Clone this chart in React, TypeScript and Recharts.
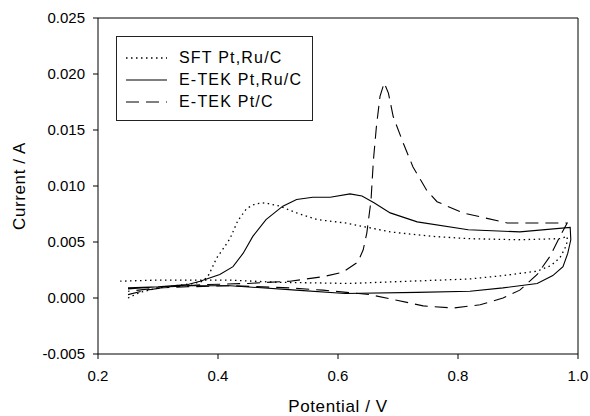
import React from 'react';
import { LineChart, Line, XAxis, YAxis, Legend, ReferenceLine } from 'recharts';

// potential (V) and current (A), in sweep order
const sftPotential = [
  0.25, 0.27, 0.3, 0.33, 0.36, 0.375, 0.385, 0.398, 0.41, 0.42, 0.433, 0.448, 0.462, 0.478,
  0.503, 0.531, 0.565, 0.612, 0.65, 0.687, 0.758, 0.817, 0.9, 0.97, 0.982,
  0.982, 0.978, 0.97, 0.955, 0.932, 0.875, 0.82, 0.72, 0.62, 0.5, 0.42, 0.35, 0.3, 0.237,
];
const sftCurrent = [
  0.0, 0.0005, 0.0009, 0.0011, 0.0013, 0.0015, 0.0021, 0.0036, 0.0045, 0.0053, 0.0069, 0.008, 0.0084, 0.0085,
  0.0082, 0.0076, 0.007, 0.0067, 0.0063, 0.0059, 0.0055, 0.0053, 0.0052, 0.0053, 0.0055,
  0.005, 0.0044, 0.0036, 0.0029, 0.0024, 0.002, 0.0017, 0.0015, 0.0013, 0.0014, 0.0016, 0.0016, 0.0016, 0.0015,
];

const etekRuPotential = [
  0.25, 0.3, 0.35, 0.37, 0.403, 0.425, 0.442, 0.458, 0.48, 0.508, 0.531, 0.558, 0.587, 0.62,
  0.64, 0.66, 0.687, 0.732, 0.817, 0.903, 0.987,
  0.988, 0.983, 0.975, 0.958, 0.932, 0.875, 0.82, 0.732, 0.612, 0.53, 0.42, 0.35, 0.3, 0.25,
];
const etekRuCurrent = [
  0.0009, 0.001, 0.0012, 0.0015, 0.0021, 0.0028, 0.004, 0.0055, 0.007, 0.0082, 0.0088, 0.009, 0.009, 0.0093,
  0.0091, 0.0085, 0.0076, 0.0068, 0.0061, 0.0059, 0.0063,
  0.0052, 0.004, 0.0028, 0.002, 0.0013, 0.0009, 0.0006, 0.0005, 0.0004, 0.0007, 0.0011, 0.0011, 0.001, 0.0008,
];

const etekPtPotential = [
  0.25, 0.28, 0.32, 0.38, 0.45, 0.52, 0.575, 0.608, 0.633, 0.642, 0.648, 0.655, 0.659, 0.664, 0.67, 0.677,
  0.684, 0.692, 0.709, 0.725, 0.748, 0.765, 0.808, 0.882, 0.982,
  0.97, 0.953, 0.932, 0.903, 0.875, 0.837, 0.792, 0.742, 0.698, 0.653, 0.575, 0.52, 0.42, 0.35, 0.3, 0.25,
];
const etekPtCurrent = [
  0.0003, 0.0007, 0.001, 0.0012, 0.0013, 0.0015, 0.0019, 0.0023, 0.0032, 0.0043, 0.0058, 0.0087, 0.0123, 0.0153, 0.018, 0.0192,
  0.0183, 0.0162, 0.0138, 0.0117, 0.0096, 0.0086, 0.0076, 0.0067, 0.0067,
  0.0055, 0.0037, 0.0021, 0.0007, 0.0, -0.0006, -0.0009, -0.0007, -0.0002, 0.0003, 0.0007, 0.0009, 0.0011, 0.001, 0.0009, 0.0006,
];

const xTicks = [0.2, 0.4, 0.6, 0.8, 1.0];
const yTicks = [-0.005, 0, 0.005, 0.01, 0.015, 0.02, 0.025];

const toPoints = (v: number[], i: number[]) => v.map((p, k) => ({ v: p, i: i[k] }));

const series = [
  { name: 'SFT Pt,Ru/C', data: toPoints(sftPotential, sftCurrent), dash: '1.5 3.5', width: 1.3 },
  { name: 'E-TEK Pt,Ru/C', data: toPoints(etekRuPotential, etekRuCurrent), dash: undefined, width: 1.1 },
  { name: 'E-TEK Pt/C', data: toPoints(etekPtPotential, etekPtCurrent), dash: '13 7', width: 1.1 },
];

const FONT = '"Liberation Sans", Arial, sans-serif';

function LegendBox() {
  return (
    <div
      style={{
        width: 197,
        height: 85,
        border: '1px solid #222',
        boxSizing: 'border-box',
        background: '#fff',
        paddingTop: 10,
        paddingLeft: 9,
        fontFamily: FONT,
        fontSize: 16,
        letterSpacing: 1.2,
        color: '#000',
      }}
    >
      {series.map((s) => (
        <div key={s.name} style={{ display: 'flex', alignItems: 'center', height: 22 }}>
          <svg width={41} height={10} style={{ marginRight: 12 }}>
            <line x1={0} y1={5} x2={41} y2={5} stroke="#000" strokeWidth={s.width} strokeDasharray={s.dash} />
          </svg>
          <span>{s.name}</span>
        </div>
      ))}
    </div>
  );
}

export default function App() {
  return (
    <div style={{ position: 'absolute', left: 0, top: 0, background: '#fff' }}>
      <LineChart width={590} height={416} margin={{ top: 18, right: 12, left: 0, bottom: 0 }}>
        <XAxis
          type="number"
          dataKey="v"
          domain={[0.2, 1.0]}
          ticks={xTicks}
          allowDataOverflow
          height={62}
          tickFormatter={(v) => v.toFixed(1)}
          tick={{ fill: '#000', fontSize: 15, fontFamily: FONT }}
          tickSize={5}
          tickMargin={11}
          axisLine={{ stroke: '#000' }}
          tickLine={{ stroke: '#000' }}
          label={{
            value: 'Potential / V',
            position: 'insideBottom',
            offset: 4,
            style: { fill: '#000', fontSize: 17, fontFamily: FONT, letterSpacing: 0.6 },
          }}
        />
        <YAxis
          type="number"
          dataKey="i"
          domain={[-0.005, 0.025]}
          ticks={yTicks}
          allowDataOverflow
          width={98}
          tickFormatter={(v) => v.toFixed(3)}
          tick={{ fill: '#000', fontSize: 15, fontFamily: FONT }}
          tickSize={5}
          tickMargin={8}
          axisLine={{ stroke: '#000' }}
          tickLine={{ stroke: '#000' }}
          label={{
            value: 'Current / A',
            angle: -90,
            position: 'insideLeft',
            offset: 19,
            style: { fill: '#000', fontSize: 17, fontFamily: FONT, letterSpacing: 0.6, textAnchor: 'middle' },
          }}
        />
        <ReferenceLine y={0.025} stroke="#000" />
        <ReferenceLine x={1.0} stroke="#000" />
        {series.map((s) => (
          <Line
            key={s.name}
            name={s.name}
            data={s.data}
            dataKey="i"
            type="linear"
            stroke="#000"
            strokeWidth={s.width}
            strokeDasharray={s.dash}
            dot={false}
            activeDot={false}
            isAnimationActive={false}
          />
        ))}
        <Legend
          layout="vertical"
          align="center"
          verticalAlign="middle"
          content={() => <LegendBox />}
          wrapperStyle={{ left: 116, top: 36, width: 197, height: 85 }}
        />
      </LineChart>
    </div>
  );
}
